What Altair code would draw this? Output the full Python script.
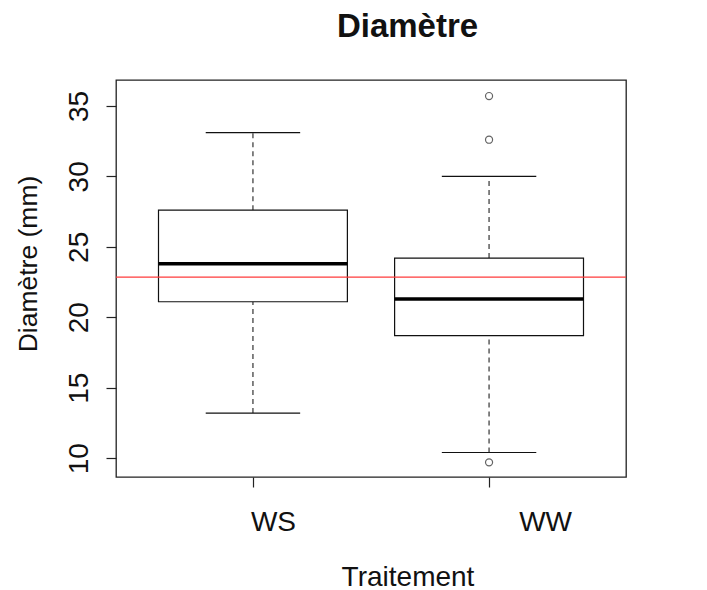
import altair as alt
import pandas as pd

# ---- data ----
categories = ["WS", "WW"]
lower_whisker = [13.2, 10.4]
q1 = [21.1, 18.7]
median = [23.8, 21.3]
q3 = [27.6, 24.2]
upper_whisker = [33.1, 30.0]

outlier_groups = ["WW", "WW", "WW"]
outlier_values = [35.7, 32.6, 9.7]

reference_value = [22.85]

y_ticks = [10, 15, 20, 25, 30, 35]

# ---- tables ----
boxes = pd.DataFrame({
    "cat": categories,
    "pos": list(range(1, len(categories) + 1)),
    "low": lower_whisker,
    "q1": q1,
    "med": median,
    "q3": q3,
    "high": upper_whisker,
})
pos_of = {c: i + 1 for i, c in enumerate(categories)}
outliers = pd.DataFrame({
    "cat": outlier_groups,
    "pos": [pos_of[c] for c in outlier_groups],
    "value": outlier_values,
})
ref = pd.DataFrame({"ref": reference_value})

FONT = "Liberation Sans"
BOXW = 0.4   # half box width
CAPW = 0.2   # half cap width

label_expr = "datum.value == 1 ? '%s' : datum.value == 2 ? '%s' : ''" % (categories[0], categories[1])

x_scale = alt.Scale(domain=[0.42, 2.58], nice=False, zero=False)
y_scale = alt.Scale(domain=[8.66, 36.84], nice=False, zero=False)

x_axis = alt.Axis(
    values=[1, 2], labelExpr=label_expr, title="Traitement",
    domain=False, grid=False, ticks=True, tickSize=10, tickColor="#222", tickWidth=1.2,
    labelFont=FONT, labelFontSize=28, labelColor="#111",
    labelBaseline="alphabetic", labelPadding=43,
    labelOffset={"condition": {"test": "datum.value == 1", "value": 20}, "value": 56},
    titleFont=FONT, titleFontSize=28, titleFontWeight="normal", titleColor="#111",
    titleX=291.5, titleY=108, titleAlign="center", titleBaseline="alphabetic",
)
y_axis = alt.Axis(
    values=y_ticks, title="Diamètre (mm)",
    domain=False, grid=False, ticks=True, tickSize=10, tickColor="#222", tickWidth=1.2,
    labelFont=FONT, labelFontSize=28, labelColor="#111",
    labelAngle=270, labelAlign="center", labelBaseline="alphabetic", labelPadding=19,
    titleFont=FONT, titleFontSize=26.5, titleFontWeight="normal", titleColor="#111",
    titleAngle=270, titleX=-80, titleY=183.5, titleAlign="center", titleBaseline="alphabetic",
)

base = alt.Chart(boxes).transform_calculate(
    bl=f"datum.pos - {BOXW}", br=f"datum.pos + {BOXW}",
    cl=f"datum.pos - {CAPW}", cr=f"datum.pos + {CAPW}",
)

whisk_low = base.mark_rule(color="#333", strokeWidth=1.2, strokeDash=[5, 4]).encode(
    x=alt.X("pos:Q", scale=x_scale, axis=x_axis),
    y=alt.Y("low:Q", scale=y_scale, axis=y_axis),
    y2="q1:Q",
)
whisk_high = base.mark_rule(color="#333", strokeWidth=1.2, strokeDash=[5, 4]).encode(
    x=alt.X("pos:Q", scale=x_scale, axis=x_axis),
    y=alt.Y("q3:Q", scale=y_scale, axis=y_axis),
    y2="high:Q",
)
cap_low = base.mark_rule(color="#111", strokeWidth=1.2).encode(
    x=alt.X("cl:Q", scale=x_scale, axis=x_axis), x2="cr:Q",
    y=alt.Y("low:Q", scale=y_scale, axis=y_axis),
)
cap_high = base.mark_rule(color="#111", strokeWidth=1.2).encode(
    x=alt.X("cl:Q", scale=x_scale, axis=x_axis), x2="cr:Q",
    y=alt.Y("high:Q", scale=y_scale, axis=y_axis),
)
box = base.mark_rect(fill="white", stroke="#111", strokeWidth=1.2).encode(
    x=alt.X("bl:Q", scale=x_scale, axis=x_axis), x2="br:Q",
    y=alt.Y("q1:Q", scale=y_scale, axis=y_axis), y2="q3:Q",
)
med = base.mark_rule(color="#000", strokeWidth=3.6).encode(
    x=alt.X("bl:Q", scale=x_scale, axis=x_axis), x2="br:Q",
    y=alt.Y("med:Q", scale=y_scale, axis=y_axis),
)
pts = alt.Chart(outliers).mark_point(shape="circle", filled=False, color="#222", size=50, strokeWidth=1.2).encode(
    x=alt.X("pos:Q", scale=x_scale, axis=x_axis),
    y=alt.Y("value:Q", scale=y_scale, axis=y_axis),
)
red = alt.Chart(ref).mark_rule(color="#ff3b3b", strokeWidth=1.4).encode(
    y=alt.Y("ref:Q", scale=y_scale, axis=y_axis),
)

chart = alt.layer(whisk_low, whisk_high, cap_low, cap_high, box, med, pts, red).properties(
    width=510, height=397,
    autosize=alt.AutoSizeParams(type="none"),
    padding={"left": 108, "top": 72, "right": 65, "bottom": 115},
    title=alt.TitleParams(
        "Diamètre", font=FONT, fontSize=33, fontWeight="bold", color="#111",
        anchor="middle", frame="group", dx=36.5, baseline="alphabetic", offset=10,
    ),
).configure(
    background="white",
    view=alt.ViewConfig(stroke="#222", strokeWidth=1.3),
)

chart.save("out.html", embed_options={"renderer": "svg", "actions": False})
